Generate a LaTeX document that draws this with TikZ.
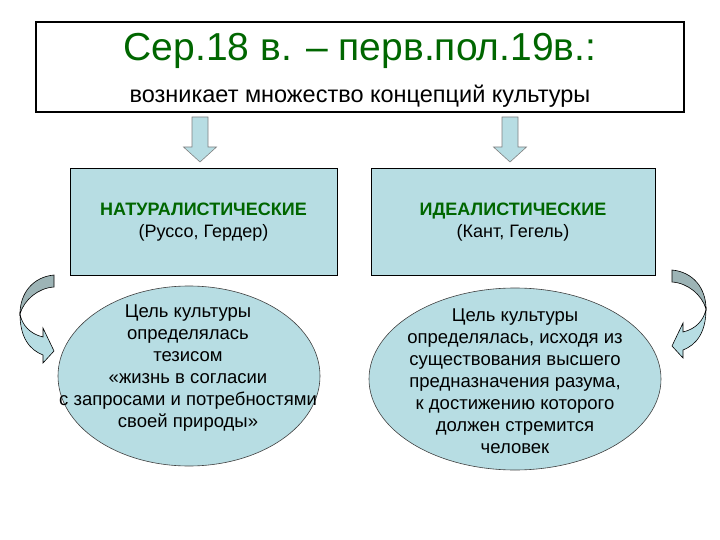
\documentclass[tikz,border=0pt]{standalone}
\usepackage{fontspec}
\setmainfont{Liberation Sans}
\usetikzlibrary{shapes.geometric,calc}
\definecolor{paleblue}{RGB}{183,221,227}
\definecolor{bandgray}{RGB}{157,180,182}
\definecolor{titlegreen}{RGB}{0,102,0}

\begin{document}
\begin{tikzpicture}[x=1pt,y=-1pt,
    topbox/.style={draw,line width=1.1pt,minimum width=648pt,minimum height=90pt},
    kindbox/.style={draw,fill=paleblue,line width=0.8pt,minimum height=107pt,
      align=center,font=\fontsize{18}{21.5}\selectfont},
    goal/.style={ellipse,draw=black!75,fill=paleblue,line width=0.6pt,inner sep=0pt},
    goaltext/.style={align=center,font=\fontsize{18.5}{22}\selectfont},
    blockarrow/.style={draw=gray,fill=paleblue,line width=0.6pt},
    bent/.style={draw,line width=0.6pt}]
    \useasboundingbox (0,0) rectangle (720,540);

    \node[topbox] (top) at (360,67) {};
    \node[text=titlegreen,font=\fontsize{39}{40}\selectfont] (title) at (360,51) {Сер.18 в. – перв.пол.19в.:};
    \node[font=\fontsize{23.5}{26}\selectfont] (sub) at (360,96) {возникает множество концепций культуры};

    \node[kindbox,minimum width=267pt] (nat) at (203.5,222)
      {\textcolor{titlegreen}{\bfseries НАТУРАЛИСТИЧЕСКИЕ}\\(Руссо, Гердер)};
    \node[kindbox,minimum width=284pt] (ide) at (513,222)
      {\textcolor{titlegreen}{\bfseries ИДЕАЛИСТИЧЕСКИЕ}\\(Кант, Гегель)};

    \node[goal,minimum width=262pt,minimum height=180pt] (natgoal) at (189,376) {};
    \node[goaltext] (natgoaltext) at (188,368) {Цель культуры\\определялась\\тезисом\\«жизнь в согласии\\с запросами и потребностями\\своей природы»};
    \node[goal,minimum width=292pt,minimum height=182pt] (idegoal) at (515,379) {};
    \node[goaltext] (idegoaltext) at (515,381) {Цель культуры\\определялась, исходя из\\существования высшего\\предназначения разума,\\к достижению которого\\должен стремится\\человек};

    %% block arrows
    \coordinate (natin) at (200,117);
    \coordinate (natend) at (200,162);
    \coordinate (idein) at (510,117);
    \coordinate (ideend) at (510,162);
    \draw[blockarrow] let \p1=(natin), \p2=(natend) in (\x1-8pt,\y1) -- (\x1+8pt,\y1) -- (\x1+8pt,\y2+15pt) -- (\x1+16.5pt,\y2+15pt) -- (\x2,\y2) -- (\x1-16.5pt,\y2+15pt) -- (\x1-8pt,\y2+15pt) -- cycle;
    \draw[blockarrow] let \p1=(idein), \p2=(ideend) in (\x1-8pt,\y1) -- (\x1+8pt,\y1) -- (\x1+8pt,\y2+15pt) -- (\x1+16.5pt,\y2+15pt) -- (\x2,\y2) -- (\x1-16.5pt,\y2+15pt) -- (\x1-8pt,\y2+15pt) -- cycle;

    %% bent arrows
    \draw[bent,fill=bandgray] (54,275) .. controls (33,277) and (20,293) .. (20,314) .. controls (24,300) and (38,288) .. (54,287) -- cycle;
    \draw[bent,fill=paleblue] (20,314) .. controls (20,338) and (30,350) .. (43,355) -- (43,363) -- (54,351) -- (43,328) -- (43,337) .. controls (30,334) and (22,325) .. (20,314) -- cycle;
    \begin{scope}[shift={(726,-5)},xscale=-1]
      \draw[bent,fill=bandgray] (54,275) .. controls (33,277) and (20,293) .. (20,314) .. controls (24,300) and (38,288) .. (54,287) -- cycle;
      \draw[bent,fill=paleblue] (20,314) .. controls (20,338) and (30,350) .. (43,355) -- (43,363) -- (54,351) -- (43,328) -- (43,337) .. controls (30,334) and (22,325) .. (20,314) -- cycle;
    \end{scope}
\end{tikzpicture}
\end{document}
